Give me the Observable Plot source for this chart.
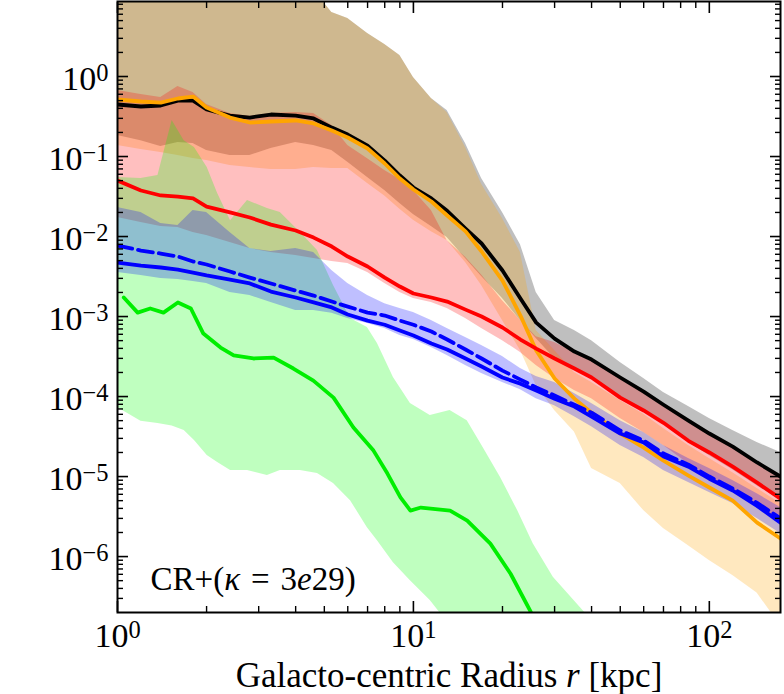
<!DOCTYPE html>
<html><head><meta charset="utf-8">
<script src="https://cdn.jsdelivr.net/npm/d3@7"></script>
<script src="https://cdn.jsdelivr.net/npm/@observablehq/plot@0.6"></script>
<style>body{margin:0;background:#fff;} #chart svg{display:block;}</style>
</head><body><div id="chart"></div>
<script>
// Shared radius grid [kpc]
const radius = [1, 1.2, 1.4, 1.6, 1.8, 2, 2.4, 2.8, 3.3, 4, 4.6, 5.3, 6, 7, 8, 9, 10, 11.5, 13, 15, 17, 20, 23, 26, 30, 35, 40, 50, 60, 70, 85, 100, 120, 145, 174];

const blackMean = [0.447, 0.422, 0.434, 0.50, 0.50, 0.387, 0.325, 0.307, 0.335, 0.325, 0.299, 0.230, 0.188, 0.137, 0.089, 0.0579, 0.041, 0.0299, 0.021, 0.0126, 0.00818, 0.00376, 0.00168, 0.00084, 0.00053, 0.000365, 0.00029, 0.000173, 0.000115, 7.9e-5, 5.0e-5, 3.45e-5, 2.37e-5, 1.5e-5, 1.0e-5];
const greyHi = [12, 12, 12, 12, 12, 12, 12, 12, 12, 12, 12, 6.31, 5.31, 3.45, 2.51, 1.83, 0.97, 0.531, 0.376, 0.145, 0.0531, 0.02, 0.0079, 0.002, 0.00089, 0.00067, 0.0005, 0.000266, 0.000168, 0.000112, 7.5e-5, 5.3e-5, 3.76e-5, 2.66e-5, 2.0e-5];
const greyLo = [0.183, 0.158, 0.133, 0.15, 0.145, 0.119, 0.103, 0.103, 0.126, 0.15, 0.137, 0.119, 0.085, 0.0546, 0.0376, 0.0259, 0.0188, 0.0133, 0.0097, 0.0053, 0.00316, 0.00168, 0.00089, 0.00053, 0.000299, 0.000224, 0.000168, 9.4e-5, 6.5e-5, 4.5e-5, 2.66e-5, 1.83e-5, 1.22e-5, 7.7e-6, 5.0e-6];

const orangeMean = [0.516, 0.487, 0.473, 0.531, 0.562, 0.41, 0.307, 0.266, 0.274, 0.282, 0.259, 0.211, 0.173, 0.126, 0.0818, 0.053, 0.0387, 0.0274, 0.0183, 0.0116, 0.0065, 0.00282, 0.00103, 0.000376, 0.000168, 9.4e-5, 6.3e-5, 3.45e-5, 2.3e-5, 1.58e-5, 1.03e-5, 7.3e-6, 5.0e-6, 2.66e-6, 1.68e-6];
const orangeHi = [12, 12, 12, 12, 12, 12, 12, 12, 12, 12, 12, 6.31, 5.31, 3.45, 2.51, 1.83, 0.97, 0.531, 0.355, 0.13, 0.045, 0.0168, 0.0063, 0.00067, 0.000376, 0.0002, 0.00015, 8.9e-5, 6.0e-5, 3.98e-5, 2.44e-5, 1.68e-5, 1.12e-5, 7.1e-6, 4.6e-6];
const orangeLo = [0.137, 0.122, 0.112, 0.103, 0.0944, 0.0891, 0.0772, 0.0729, 0.0688, 0.0688, 0.0729, 0.0708, 0.0708, 0.046, 0.032, 0.022, 0.016, 0.0115, 0.0089, 0.00473, 0.00244, 0.00089, 0.000376, 0.000137, 6.7e-5, 3.6e-5, 1.26e-5, 8.2e-6, 3.76e-6, 2.24e-6, 1.37e-6, 8.9e-7, 5.8e-7, 3.5e-7, 1.37e-7];

const redMean = [0.0501, 0.0376, 0.0326, 0.0316, 0.0299, 0.0237, 0.02, 0.0173, 0.0141, 0.0119, 0.0097, 0.0075, 0.00562, 0.00422, 0.00307, 0.00237, 0.00194, 0.00173, 0.00154, 0.00122, 0.001, 0.00073, 0.000516, 0.000398, 0.000299, 0.000224, 0.000173, 9.7e-5, 6.7e-5, 4.7e-5, 2.8e-5, 2.0e-5, 1.33e-5, 8.4e-6, 5.3e-6];
const redHi = [0.668, 0.596, 0.546, 0.75, 0.631, 0.447, 0.345, 0.316, 0.345, 0.355, 0.345, 0.244, 0.137, 0.094, 0.067, 0.0518, 0.0376, 0.0211, 0.0089, 0.0055, 0.0033, 0.00158, 0.00089, 0.00056, 0.000473, 0.000355, 0.000282, 0.000168, 0.000112, 7.7e-5, 4.9e-5, 3.35e-5, 2.3e-5, 1.45e-5, 9.4e-6];
const redLo = [0.0173, 0.015, 0.0133, 0.013, 0.0112, 0.0103, 0.0084, 0.00708, 0.0063, 0.00579, 0.0053, 0.00487, 0.0046, 0.00355, 0.00259, 0.002, 0.00168, 0.0015, 0.00126, 0.000944, 0.000708, 0.0005, 0.000355, 0.000244, 0.000168, 0.000119, 9.4e-5, 5.3e-5, 3.55e-5, 2.44e-5, 1.45e-5, 1.0e-5, 6.7e-6, 4.3e-6, 2.82e-6];

const blueMean = [0.00473, 0.00434, 0.0041, 0.00387, 0.00355, 0.00326, 0.0029, 0.00259, 0.00205, 0.00173, 0.0015, 0.0013, 0.00106, 0.00089, 0.00079, 0.00067, 0.00058, 0.00046, 0.000387, 0.000299, 0.000237, 0.000173, 0.000145, 0.000119, 9.4e-5, 7.5e-5, 5.6e-5, 3.45e-5, 2.66e-5, 1.78e-5, 1.33e-5, 9.4e-6, 6.7e-6, 4.3e-6, 2.66e-6];
const blueDashed = [0.00772, 0.00668, 0.00613, 0.00562, 0.00487, 0.00447, 0.00365, 0.00307, 0.00259, 0.00211, 0.00183, 0.00154, 0.00133, 0.00112, 0.00103, 0.00089, 0.00079, 0.00065, 0.000516, 0.000387, 0.000299, 0.000211, 0.000163, 0.00013, 0.000103, 7.9e-5, 6.3e-5, 3.76e-5, 2.82e-5, 1.94e-5, 1.41e-5, 1.0e-5, 7.1e-6, 4.7e-6, 3.0e-6];
const blueHi = [0.023, 0.02, 0.0145, 0.0137, 0.0211, 0.02, 0.0112, 0.00708, 0.0065, 0.00708, 0.0063, 0.00376, 0.00259, 0.00183, 0.00145, 0.00126, 0.00112, 0.00089, 0.000708, 0.000546, 0.000434, 0.000316, 0.000224, 0.000178, 0.00015, 0.000109, 8.2e-5, 5.0e-5, 3.55e-5, 2.44e-5, 1.68e-5, 1.26e-5, 8.9e-6, 6.1e-6, 4.1e-6];
const blueLo = [0.00355, 0.00326, 0.00299, 0.0029, 0.00274, 0.00259, 0.002, 0.00183, 0.0015, 0.00119, 0.00119, 0.0011, 0.000944, 0.000818, 0.000708, 0.00058, 0.000516, 0.00041, 0.000326, 0.000244, 0.000194, 0.00015, 0.000122, 9.4e-5, 7.7e-5, 5.6e-5, 4.2e-5, 2.44e-5, 1.73e-5, 1.19e-5, 8.4e-6, 6.3e-6, 4.6e-6, 3.0e-6, 1.94e-6];

// Green band and line have their own radius grids
const greenBandR = [1, 1.2, 1.37, 1.53, 1.68, 1.82, 2.01, 2.18, 2.41, 2.75, 3.21, 3.55, 4.15, 4.74, 5.37, 6.13, 6.99, 7.56, 8.56, 9.77, 11.4, 13.3, 15.2, 17.2, 19.7, 22.5, 25.4, 29.7, 36.7, 42.8];
const greenHi = [0.0546, 0.0531, 0.0579, 0.282, 0.158, 0.13, 0.0729, 0.0345, 0.0158, 0.0282, 0.0224, 0.02, 0.0112, 0.00668, 0.00244, 0.000944, 0.00073, 0.00046, 0.000173, 8.2e-5, 5.8e-5, 6.7e-5, 5.0e-5, 2.3e-5, 9.7e-6, 3.76e-6, 1.45e-6, 5.5e-7, 2.3e-7, 1.19e-7];
const greenLo = [7.3e-5, 4.9e-5, 4.6e-5, 4.3e-5, 3.76e-5, 2.82e-5, 1.83e-5, 1.5e-5, 1.19e-5, 1.19e-5, 1.03e-5, 1.19e-5, 1.19e-5, 1.09e-5, 8.2e-6, 5.0e-6, 2.3e-6, 1.58e-6, 8.4e-7, 5.0e-7, 2.82e-7, 1.37e-7, 6.7e-8, 3e-8, 3e-8, 3e-8, 3e-8, 3e-8, 3e-8, 3e-8];
const greenLineR = [1.05, 1.17, 1.29, 1.43, 1.6, 1.77, 1.95, 2.23, 2.47, 2.88, 3.37, 3.93, 4.59, 5.37, 6.27, 7.33, 8.17, 9.04, 9.77, 10.6, 13.3, 15.2, 18.2, 21.3, 24.9, 26.9];
const greenMean = [0.00173, 0.00112, 0.00126, 0.00112, 0.0015, 0.00126, 0.000613, 0.00041, 0.000326, 0.000299, 0.000307, 0.000224, 0.000158, 9.7e-5, 4.1e-5, 2.11e-5, 1.09e-5, 5.5e-6, 3.76e-6, 4.1e-6, 3.76e-6, 2.82e-6, 1.45e-6, 6.1e-7, 2.05e-7, 8.9e-8];

// Ticks and labels
const xMajor = [1, 10, 100];
const xMinor = [2, 3, 4, 5, 6, 7, 8, 9, 20, 30, 40, 50, 60, 70, 80, 90];
const yMajor = [1e-6, 1e-5, 1e-4, 1e-3, 1e-2, 1e-1, 1];
const yMinor = [];
for (let k = -7; k <= 0; k++) for (let m = 2; m <= 9; m++) { const v = m * Math.pow(10, k); if (v > 2.01e-7 && v < 8.6) yMinor.push(v); }
const xTitle = "Galacto-centric Radius r [kpc]";
const annotation = "CR+(κ = 3e29)";

const band = (xs, lo, hi) => xs.map((r, i) => ({r, lo: lo[i], hi: hi[i]}));
const series = (xs, v) => xs.map((r, i) => ({r, v: v[i]}));
const powFmt = (v) => { const e = Math.round(Math.log10(v)); return "10^" + (e < 0 ? "\u2212" + (-e) : String(e)); };
const blank = () => "";
const FS = 34;
const LW = 3.8;

const chart = Plot.plot({
  width: 784, height: 694,
  marginLeft: 117, marginRight: 4, marginTop: 1, marginBottom: 82,
  style: {fontFamily: "'Liberation Serif', 'Times New Roman', serif", background: "white", color: "black", overflow: "visible"},
  x: {type: "log", domain: [1, 174]},
  y: {type: "log", domain: [2e-7, 8.66]},
  marks: [
    Plot.areaY(band(radius, greyLo, greyHi), {x: "r", y1: "lo", y2: "hi", fill: "#808080", fillOpacity: 0.5, clip: true}),
    Plot.areaY(band(radius, orangeLo, orangeHi), {x: "r", y1: "lo", y2: "hi", fill: "#ffa500", fillOpacity: 0.25, clip: true}),
    Plot.areaY(band(radius, redLo, redHi), {x: "r", y1: "lo", y2: "hi", fill: "#ff0000", fillOpacity: 0.25, clip: true}),
    Plot.areaY(band(greenBandR, greenLo, greenHi), {x: "r", y1: "lo", y2: "hi", fill: "#00ff00", fillOpacity: 0.25, clip: true}),
    Plot.areaY(band(radius, blueLo, blueHi), {x: "r", y1: "lo", y2: "hi", fill: "#0000ff", fillOpacity: 0.25, clip: true}),
    Plot.lineY(series(radius, blackMean), {x: "r", y: "v", stroke: "black", strokeWidth: LW, clip: true}),
    Plot.lineY(series(radius, orangeMean), {x: "r", y: "v", stroke: "#ffa500", strokeWidth: LW, clip: true}),
    Plot.lineY(series(radius, redMean), {x: "r", y: "v", stroke: "#ff0000", strokeWidth: LW, clip: true}),
    Plot.lineY(series(radius, blueMean), {x: "r", y: "v", stroke: "#0000ff", strokeWidth: LW, clip: true}),
    Plot.lineY(series(radius, blueDashed), {x: "r", y: "v", stroke: "#0000ff", strokeWidth: LW, strokeDasharray: "15,6", clip: true}),
    Plot.lineY(series(greenLineR, greenMean), {x: "r", y: "v", stroke: "#00ee00", strokeWidth: LW, clip: true}),
    // axes: labels
    Plot.axisX({ticks: xMajor, anchor: "bottom", tickSize: 0, tickPadding: 10, tickFormat: powFmt, fontSize: FS, label: null}),
    Plot.axisY({ticks: yMajor, anchor: "left", tickSize: 0, tickPadding: 9, dy: 3, tickFormat: powFmt, fontSize: FS, label: null}),
    // inward ticks on all four sides
    Plot.axisX({ticks: xMajor, anchor: "bottom", tickSize: -11, strokeWidth: 1.6, tickFormat: blank, label: null}),
    Plot.axisX({ticks: xMinor, anchor: "bottom", tickSize: -6, strokeWidth: 1.4, tickFormat: blank, label: null}),
    Plot.axisX({ticks: xMajor, anchor: "top", tickSize: -11, strokeWidth: 1.6, tickFormat: blank, label: null}),
    Plot.axisX({ticks: xMinor, anchor: "top", tickSize: -6, strokeWidth: 1.4, tickFormat: blank, label: null}),
    Plot.axisY({ticks: yMajor, anchor: "left", tickSize: -11, strokeWidth: 1.6, tickFormat: blank, label: null}),
    Plot.axisY({ticks: yMinor, anchor: "left", tickSize: -6, strokeWidth: 1.4, tickFormat: blank, label: null}),
    Plot.axisY({ticks: yMajor, anchor: "right", tickSize: -11, strokeWidth: 1.6, tickFormat: blank, label: null}),
    Plot.axisY({ticks: yMinor, anchor: "right", tickSize: -6, strokeWidth: 1.4, tickFormat: blank, label: null}),
    Plot.frame({stroke: "black", strokeWidth: 2}),
    Plot.text([annotation], {text: d => d, frameAnchor: "bottom-left", dx: 33, dy: -23, textAnchor: "start", lineAnchor: "bottom", fontSize: 33, fill: "black"}),
    Plot.text([xTitle], {text: d => d, frameAnchor: "bottom", dy: 74, lineAnchor: "bottom", fontSize: 35, fill: "black"})
  ]
});

// typeset superscripts and italics as real text
chart.querySelectorAll("text").forEach(t => {
  const s = t.textContent;
  const m = /^10\^(.+)$/.exec(s);
  if (m) {
    t.textContent = "10";
    const sup = document.createElementNS("http://www.w3.org/2000/svg", "tspan");
    sup.setAttribute("dy", "-9");
    sup.setAttribute("font-size", "24.5");
    sup.textContent = m[1];
    t.appendChild(sup);
  } else if (s === xTitle) {
    t.innerHTML = 'Galacto-centric Radius <tspan font-style="italic">r</tspan> [kpc]';
  } else if (s === annotation) {
    t.innerHTML = 'CR+(<tspan font-style="italic">κ</tspan>\u2004=\u20043<tspan font-style="italic">e</tspan>29)';
  }
});
document.getElementById("chart").appendChild(chart);
</script>
</body></html>
